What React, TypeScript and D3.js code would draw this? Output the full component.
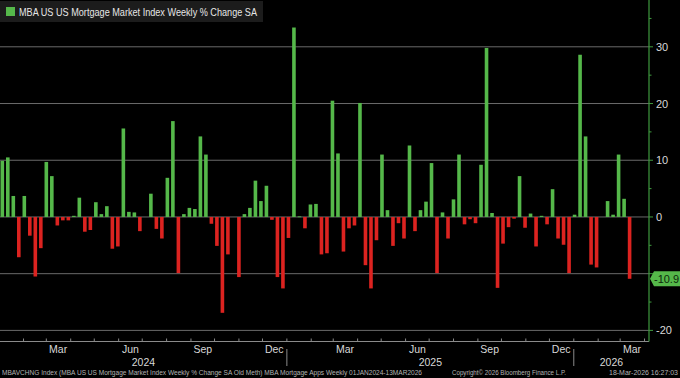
import React from "react";
import * as d3 from "d3";

const seriesName = "MBA US US Mortgage Market Index Weekly % Change SA";
const firstWeek = "2024-01-05";
const values: number[] = [
  9.9, 10.5, 3.7, -7.1, 3.7, -3.3, -10.5, -5.5, 9.7, 7.2,
  -1.5, -0.6, -0.6, 0.2, 3.4, -2.6, -2.3, 2.6, 0.5, 1.9,
  -5.6, -5.2, 15.6, 0.9, 0.8, -2.5, 0, 4.1, -2.1, -3.8,
  6.9, 16.9, -9.9, 0.5, 1.6, 1.4, 14.2, 11.0, -1.2, -5.1,
  -16.9, -6.6, 0, -10.6, 0.5, 1.6, 6.4, 2.8, 5.5, -0.5,
  -10.6, -12.6, -3.7, 33.4, 0.1, -2.0, 2.2, 2.3, -6.6, -6.4,
  20.5, 11.2, -6.1, -2.0, -1.5, 20.1, -8.5, -12.6, -4.1, 11.0,
  1.2, -5.1, -1.1, -3.8, 12.6, -2.5, 1.2, 2.7, 9.5, -9.9,
  0.8, -3.8, 3.1, 11.0, -1.3, -0.4, -1.1, 9.2, 29.8, 0.7,
  -12.5, -4.7, -1.8, -0.3, 7.2, -1.9, 0.6, -5.2, 0.2, -1.3,
  4.9, -3.8, -4.9, -9.9, 0.4, 28.6, 14.2, -8.4, -8.9, 0,
  2.8, 0.4, 11.0, 3.2, -10.9,
];
const yTicks = [-20, -10, 0, 10, 20, 30];
const yLabelTicks = [-20, 0, 10, 20, 30]; // -10 is hidden under the last-value tag
const yMinorTicks = [-15, -5, 5, 15, 25, 35];
const quarterMonths = ["Mar", "Jun", "Sep", "Dec"];
const years = [2024, 2025, 2026];
const lastLabel = "-10.9";
const footerLeft =
  "MBAVCHNG Index (MBA US US Mortgage Market Index Weekly % Change SA Old Meth) MBA Mortgage Apps Weekly 01JAN2024-13MAR2026";
const footerMid = "Copyright\u00A9 2026 Bloomberg Finance L.P.";
const footerRight = "18-Mar-2026 16:27:03";

const W = 680;
const H = 378;
const plotRight = 649;
const axisY = 341.5;
const GREEN = "#55b84a";
const RED = "#dc2320";
const FONT = "'Liberation Sans', Arial, sans-serif";

export default function App() {
  const parse = d3.utcParse("%Y-%m-%d");
  const start = parse(firstWeek) as Date;
  const dates = values.map((_, i) => d3.utcDay.offset(start, i * 7));
  const x = d3
    .scaleUtc()
    .domain([dates[0], dates[dates.length - 1]])
    .range([2.3, 629.6]);
  const y = d3.scaleLinear().domain([-20, 30]).range([330.4, 46.8]);
  const barW = 3.6;

  const domStart = x.invert(0);
  const domEnd = x.invert(plotRight);
  const monthStarts = d3.utcMonth.range(d3.utcMonth.ceil(domStart), domEnd);
  const fmt = d3.utcFormat("%b");
  const quarterLabels = monthStarts.filter((m) => quarterMonths.includes(fmt(m)));

  const yearInfo = years.map((yr) => {
    const a = Math.max(0, x(new Date(Date.UTC(yr, 0, 1))));
    const b = Math.min(plotRight, x(new Date(Date.UTC(yr + 1, 0, 1))));
    return { yr, a, b };
  });

  const lastV = values[values.length - 1];
  const ty = y(lastV);

  return (
    <svg
      width={W}
      height={H}
      style={{ position: "fixed", left: 0, top: 0, background: "#000", display: "block" }}
      fontFamily={FONT}
    >
      <rect x={0} y={0} width={W} height={H} fill="#000" />
      {/* grid */}
      {yTicks.map((t) => (
        <line key={"g" + t} x1={0} x2={plotRight} y1={y(t)} y2={y(t)} stroke="#6a6a6a" strokeWidth={1} />
      ))}
      {/* bars */}
      {values.map((v, i) => {
        const cx = x(dates[i]);
        const y0 = y(0);
        const y1 = y(v);
        return (
          <rect
            key={"b" + i}
            x={cx - barW / 2}
            y={Math.min(y0, y1)}
            width={barW}
            height={Math.max(Math.abs(y1 - y0), v === 0 ? 0 : 0.8)}
            fill={v >= 0 ? GREEN : RED}
          />
        );
      })}
      {/* bottom axis */}
      <line x1={0} x2={plotRight} y1={axisY} y2={axisY} stroke="#8a8a8a" strokeWidth={1} />
      {monthStarts.map((m, i) => (
        <line key={"mt" + i} x1={x(m)} x2={x(m)} y1={axisY} y2={axisY - 3} stroke="#8a8a8a" strokeWidth={1} />
      ))}
      {quarterLabels.map((m, i) => (
        <text
          key={"ml" + i}
          x={x(d3.utcDay.offset(m, 15))}
          y={353}
          fill="#d8d8d8"
          fontSize={10.5}
          textAnchor="middle"
        >
          {fmt(m)}
        </text>
      ))}
      {yearInfo.slice(1).map((yi) => (
        <line key={"ys" + yi.yr} x1={yi.a} x2={yi.a} y1={349} y2={366} stroke="#8a8a8a" strokeWidth={1} />
      ))}
      {yearInfo.map((yi) => (
        <text key={"yl" + yi.yr} x={(yi.a + yi.b) / 2} y={366} fill="#d8d8d8" fontSize={10.5} textAnchor="middle">
          {yi.yr}
        </text>
      ))}
      {/* right axis */}
      <line x1={plotRight} x2={plotRight} y1={0} y2={axisY} stroke="#3f9a3f" strokeWidth={1.2} />
      {yMinorTicks.map((t) => (
        <line key={"mn" + t} x1={plotRight} x2={plotRight + 2.5} y1={y(t)} y2={y(t)} stroke="#3f9a3f" strokeWidth={1} />
      ))}
      {yTicks.map((t) => (
        <line key={"yt" + t} x1={plotRight} x2={plotRight + 4} y1={y(t)} y2={y(t)} stroke="#3f9a3f" strokeWidth={1} />
      ))}
      {yLabelTicks.map((t) => (
        <text key={"yl" + t} x={plotRight + 7} y={y(t) + 4} fill="#d8d8d8" fontSize={11}>
          {t}
        </text>
      ))}
      {/* last value tag */}
      <path
        d={`M${plotRight + 1},${ty} L${plotRight + 5},${ty - 7.5} L${W},${ty - 7.5} L${W},${ty + 7.5} L${plotRight + 5},${ty + 7.5} Z`}
        fill={GREEN}
      />
      <text x={plotRight + 5} y={ty + 3.8} fill="#0c2a0c" fontSize={10} textLength={25} lengthAdjust="spacingAndGlyphs">
        {lastLabel}
      </text>
      {/* legend */}
      <rect x={0} y={1} width={263} height={21} fill="#1c1c1c" />
      <rect x={6} y={7} width={9} height={9} fill={GREEN} />
      <text x={19} y={16} fill="#e6e6e6" fontSize={11} textLength={238} lengthAdjust="spacingAndGlyphs">
        {seriesName}
      </text>
      {/* footer */}
      <text x={2} y={375} fill="#b4b4b4" fontSize={6.6} textLength={420} lengthAdjust="spacingAndGlyphs">
        {footerLeft}
      </text>
      <text x={452} y={375} fill="#b4b4b4" fontSize={6.6} textLength={114} lengthAdjust="spacingAndGlyphs">
        {footerMid}
      </text>
      <text x={609} y={375} fill="#b4b4b4" fontSize={6.6} textLength={69} lengthAdjust="spacingAndGlyphs">
        {footerRight}
      </text>
    </svg>
  );
}
